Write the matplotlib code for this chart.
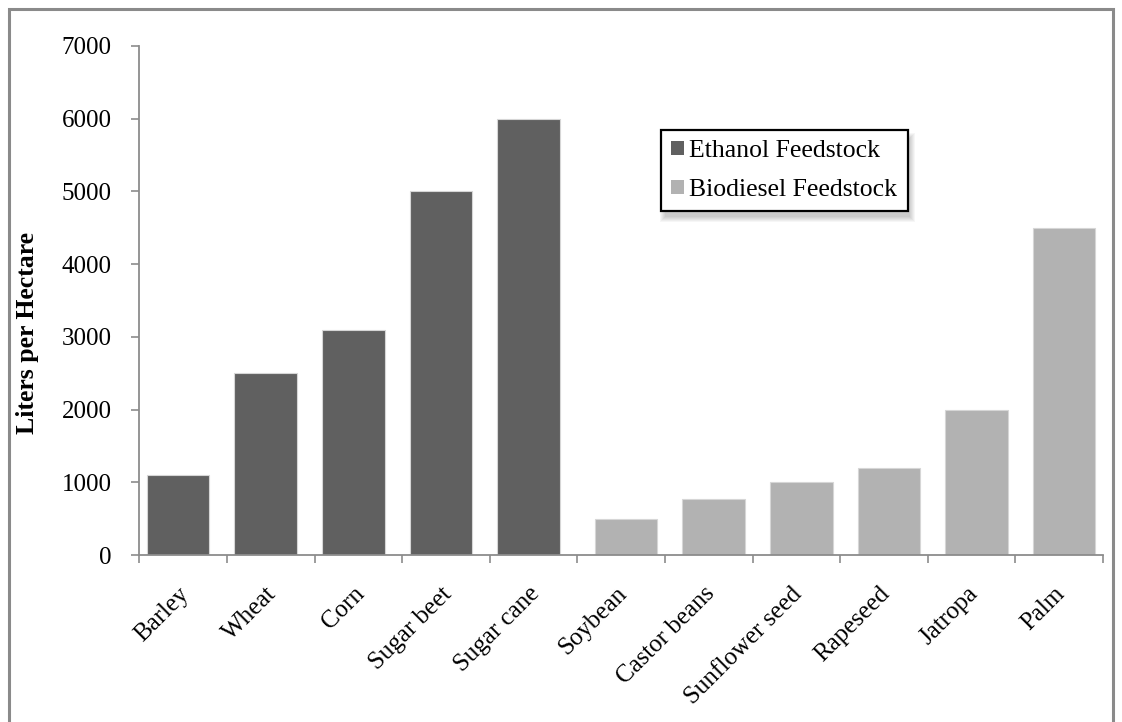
import matplotlib
matplotlib.use("Agg")
import matplotlib.pyplot as plt
from matplotlib.patches import Rectangle, Patch

plt.rcParams['font.family'] = ['Liberation Serif', 'DejaVu Serif']

crops = ["Barley", "Wheat", "Corn", "Sugar beet", "Sugar cane",
         "Soybean", "Castor beans", "Sunflower seed", "Rapeseed", "Jatropa", "Palm"]
yields = [1100, 2500, 3100, 5000, 6000, 500, 770, 1000, 1200, 2000, 4500]
feedstock = ["Ethanol"] * 5 + ["Biodiesel"] * 6

colors = {"Ethanol": "#606060", "Biodiesel": "#b2b2b2"}
legend_labels = {"Ethanol": "Ethanol Feedstock", "Biodiesel": "Biodiesel Feedstock"}
# clustered series: ethanol sits slightly left of the category centre, biodiesel slightly right
series_shift = {"Ethanol": -0.058, "Biodiesel": 0.055}

W, H = 1122, 722
fig = plt.figure(figsize=(W / 100, H / 100), dpi=100)
ax = fig.add_axes([0.1242, 0.2313, 0.8589, 0.7050])

x = list(range(len(crops)))
ax.bar([i + series_shift[f] for i, f in zip(x, feedstock)], yields, width=0.715,
       color=[colors[f] for f in feedstock],
       edgecolor="#d6d6d6", linewidth=0.8, zorder=2)

ax.set_xlim(-0.5, len(crops) - 0.5)
ax.set_ylim(0, 7000)
ax.set_yticks(range(0, 7001, 1000))
ax.set_yticklabels([str(v) for v in range(0, 7001, 1000)], fontsize=18)

ax.set_xticks([i - 0.06 for i in x])
ax.set_xticklabels(crops, rotation=45, ha="right", rotation_mode="anchor", fontsize=18)
ax.tick_params(axis="x", length=0, pad=20)
# tick marks on category boundaries
ax.set_xticks([i - 0.5 for i in range(len(crops) + 1)], minor=True)
ax.tick_params(axis="x", which="minor", length=6, color="#8c8c8c", width=1.2)
ax.tick_params(axis="y", length=6, color="#8c8c8c", width=1.2, pad=14)

for side in ("top", "right"):
    ax.spines[side].set_visible(False)
for side in ("left", "bottom"):
    ax.spines[side].set_color("#8c8c8c")
    ax.spines[side].set_linewidth(1.3)

fig.text(28 / W, 1 - 333 / H, "Liters per Hectare", rotation=90,
         ha="center", va="center", fontsize=18.5, fontweight="bold")

handles = [Patch(facecolor=colors[k], edgecolor="none") for k in ("Ethanol", "Biodiesel")]
leg = fig.legend(handles, [legend_labels[k] for k in ("Ethanol", "Biodiesel")],
                 loc="upper left", bbox_to_anchor=(661 / W, 1 - 130 / H),
                 fontsize=18.5, frameon=True, fancybox=False, framealpha=1.0,
                 handlelength=0.5, handleheight=0.5, handletextpad=0.2,
                 labelspacing=0.65, borderpad=0.4, borderaxespad=0)
leg.get_frame().set_edgecolor("black")
leg.get_frame().set_facecolor("white")
leg.get_frame().set_linewidth(1.6)
leg.set_zorder(10)

# soft drop shadow behind the legend box
fig.canvas.draw()
bb = leg.get_window_extent()
for k in range(1, 7):
    fig.patches.append(Rectangle(((bb.x0 + 5 - k) / W, (bb.y0 - 5 - k) / H),
                                 (bb.width + 2 * k - 4) / W, (bb.height + 2 * k - 4) / H,
                                 transform=fig.transFigure, facecolor="black",
                                 edgecolor="none", alpha=0.035, zorder=1))

# chart area border (bottom edge runs off the canvas)
fig.patches.append(Rectangle((0.008, -0.02), 0.984, 1.008, transform=fig.transFigure,
                             fill=False, edgecolor="#8a8a8a", linewidth=2.2))

fig.savefig("out.png", dpi=100, facecolor="white")
